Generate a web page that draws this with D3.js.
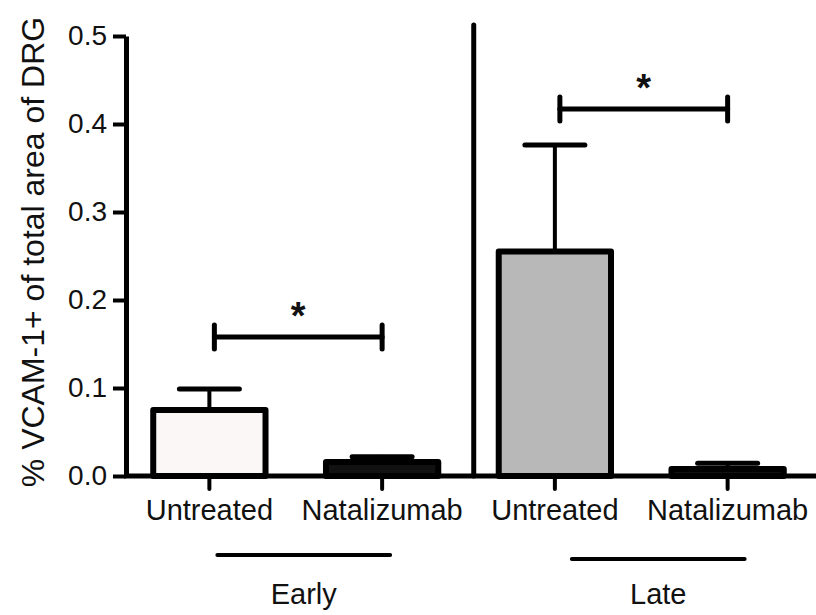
<!DOCTYPE html>
<html>
<head>
<meta charset="utf-8">
<script src="https://cdn.jsdelivr.net/npm/d3@7"></script>
<style>
  body { margin: 0; background: #fff; }
  text { font-family: "Liberation Sans", Arial, sans-serif; fill: #111; }
</style>
</head>
<body>
<svg id="chart" width="816" height="615"></svg>
<script>
// data
const groupIds   = ["early-untreated", "early-natalizumab", "late-untreated", "late-natalizumab"];
const barLabels  = ["Untreated", "Natalizumab", "Untreated", "Natalizumab"];
const meanValues = [0.075, 0.016, 0.255, 0.008];
const errorTops  = [0.099, 0.022, 0.376, 0.0145];
const barFills   = ["#fbf7f7", "#111111", "#b8b8b8", "#111111"];
const yTicks     = [0, 0.1, 0.2, 0.3, 0.4, 0.5];
const timepoints = ["Early", "Late"];
const sigPairs   = [[0, 1, 0.158], [2, 3, 0.417]];

const width = 816, height = 615;
const svg = d3.select("#chart");

const axisX = 126, baseY = 476;

const x = d3.scaleBand()
    .domain(groupIds)
    .range([123, 814])
    .paddingInner(0.35)
    .paddingOuter(0.175);

const y = d3.scaleLinear().domain([0, 0.5]).range([baseY, 36]);

const cx = id => x(id) + x.bandwidth() / 2;

// bars
svg.append("g").selectAll("rect")
    .data(groupIds)
    .join("rect")
    .attr("x", d => x(d))
    .attr("y", (d, i) => y(meanValues[i]))
    .attr("width", x.bandwidth())
    .attr("height", (d, i) => baseY - y(meanValues[i]))
    .attr("fill", (d, i) => barFills[i])
    .attr("stroke", "#000")
    .attr("stroke-width", 6)
    .attr("stroke-linejoin", "round");

// error bars (upper only)
const err = svg.append("g").attr("stroke", "#000").attr("stroke-linecap", "round");
groupIds.forEach((d, i) => {
    err.append("line")
        .attr("x1", cx(d)).attr("x2", cx(d))
        .attr("y1", y(meanValues[i])).attr("y2", y(errorTops[i]))
        .attr("stroke-width", 4);
    err.append("line")
        .attr("x1", cx(d) - 30).attr("x2", cx(d) + 30)
        .attr("y1", y(errorTops[i])).attr("y2", y(errorTops[i]))
        .attr("stroke-width", 5);
});

// y axis
svg.append("g")
    .attr("transform", `translate(${axisX},0)`)
    .call(d3.axisLeft(y).tickValues(yTicks).tickFormat(d3.format(".1f")).tickSize(13).tickSizeOuter(0).tickPadding(6))
    .call(g => g.select(".domain").attr("stroke-width", 5).attr("stroke", "#000"))
    .call(g => g.selectAll(".tick line").attr("stroke-width", 4).attr("stroke", "#000"))
    .call(g => g.selectAll(".tick text").style("font-size", "28px").attr("fill", "#111").attr("font-family", null));

// x axis
svg.append("g")
    .attr("transform", `translate(0,${baseY})`)
    .call(d3.axisBottom(x).tickFormat((d, i) => barLabels[i]).tickSize(13).tickPadding(10))
    .call(g => g.select(".domain").remove())
    .call(g => g.selectAll(".tick line").attr("stroke-width", 4).attr("stroke", "#000").attr("stroke-linecap", "round"))
    .call(g => g.selectAll(".tick text").style("font-size", "29px").attr("fill", "#111").attr("font-family", null));

svg.append("line")
    .attr("x1", axisX - 2).attr("x2", width)
    .attr("y1", baseY).attr("y2", baseY)
    .attr("stroke", "#000").attr("stroke-width", 5);

// divider between early and late panels
const sepX = x(groupIds[2]) - 25;
svg.append("line")
    .attr("x1", sepX).attr("x2", sepX)
    .attr("y1", 25).attr("y2", baseY)
    .attr("stroke", "#000").attr("stroke-width", 5)
    .attr("stroke-linecap", "round");

// significance brackets
sigPairs.forEach(([a, b, v]) => {
    const x1 = cx(groupIds[a]) + 5, x2 = cx(groupIds[b]);
    const yy = y(v);
    const g = svg.append("g").attr("stroke", "#000").attr("stroke-linecap", "round");
    g.append("line").attr("x1", x1).attr("x2", x2).attr("y1", yy).attr("y2", yy).attr("stroke-width", 5);
    g.append("line").attr("x1", x1).attr("x2", x1).attr("y1", yy - 12).attr("y2", yy + 12).attr("stroke-width", 5);
    g.append("line").attr("x1", x2).attr("x2", x2).attr("y1", yy - 12).attr("y2", yy + 12).attr("stroke-width", 5);
    svg.append("text")
        .attr("x", (x1 + x2) / 2)
        .attr("y", yy - 8)
        .attr("text-anchor", "middle")
        .style("font-size", "38px")
        .style("font-weight", "bold")
        .text("*");
});

// time point grouping lines
timepoints.forEach((t, k) => {
    const a = groupIds[k * 2], b = groupIds[k * 2 + 1];
    const shift = k === 0 ? 8 : 17;
    const x1 = cx(a) + shift, x2 = cx(b) + shift;
    const ly = k === 0 ? 555 : 559;
    svg.append("line")
        .attr("x1", x1).attr("x2", x2)
        .attr("y1", ly).attr("y2", ly)
        .attr("stroke", "#000").attr("stroke-width", 4)
        .attr("stroke-linecap", "round");
    svg.append("text")
        .attr("x", (x1 + x2) / 2)
        .attr("y", 604)
        .attr("text-anchor", "middle")
        .style("font-size", "29px")
        .text(t);
});

// y axis title
svg.append("text")
    .attr("transform", `translate(44,${252}) rotate(-90)`)
    .attr("text-anchor", "middle")
    .style("font-size", "32px")
    .text("% VCAM-1+ of total area of DRG");
</script>
</body>
</html>
